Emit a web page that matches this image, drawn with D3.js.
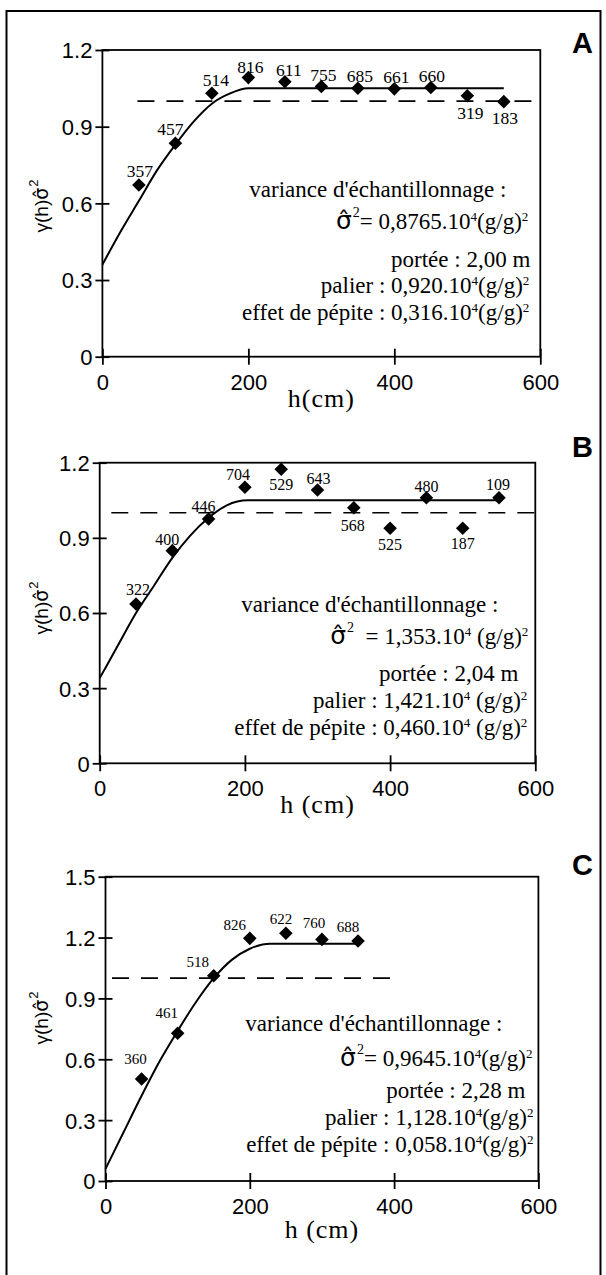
<!DOCTYPE html>
<html><head><meta charset="utf-8">
<script src="https://cdn.jsdelivr.net/npm/d3@7"></script>
<style>body{margin:0;background:#fff}svg{display:block}</style>
</head><body>
<script>
// ---------------- DATA ----------------
const xTicks = [0, 200, 400, 600];
const xTickLabels = ["0", "200", "400", "600"];
const yTicksAB = [0, 0.3, 0.6, 0.9, 1.2];
const yTickLabelsAB = ["0", "0.3", "0.6", "0.9", "1.2"];
const yTicksC = [0, 0.3, 0.6, 0.9, 1.2, 1.5];
const yTickLabelsC = ["0", "0.3", "0.6", "0.9", "1.2", "1.5"];

// Panel A
const hA = [50, 100, 150, 200, 250, 300, 350, 400, 450, 500, 550];
const gA = [0.672, 0.835, 1.031, 1.092, 1.076, 1.057, 1.050, 1.048, 1.053, 1.021, 0.998];
const nA = ["357", "457", "514", "816", "611", "755", "685", "661", "660", "319", "183"];
const modelHA = [0, 25, 50, 75, 100, 125, 150, 175, 200, 550];
const modelGA = [0.36, 0.49, 0.61, 0.73, 0.83, 0.92, 0.99, 1.03, 1.05, 1.05];
const refHA = [48, 600];
const annotA = {
  variance: "variance d'échantillonnage :",
  sigma: ["= 0,8765.10", "4", "(g/g)", "2"],
  portee: "portée : 2,00 m",
  palier: ["palier : 0,920.10", "4", "(g/g)", "2"],
  pepite: ["effet de pépite : 0,316.10", "4", "(g/g)", "2"]
};

// Panel B
const hB = [50, 100, 150, 200, 250, 300, 350, 400, 450, 500, 550];
const gB = [0.636, 0.849, 0.975, 1.102, 1.174, 1.091, 1.020, 0.938, 1.060, 0.938, 1.060];
const nB = ["322", "400", "446", "704", "529", "643", "568", "525", "480", "187", "109"];
const modelHB = [0, 25, 50, 75, 100, 125, 150, 175, 204, 550];
const modelGB = [0.34, 0.47, 0.60, 0.71, 0.82, 0.91, 0.98, 1.03, 1.05, 1.05];
const refHB = [16, 600];
const annotB = {
  variance: "variance d'échantillonnage :",
  sigma: ["  = 1,353.10", "4", " (g/g)", "2"],
  portee: "portée : 2,04 m",
  palier: ["palier : 1,421.10", "4", " (g/g)", "2"],
  pepite: ["effet de pépite : 0,460.10", "4", " (g/g)", "2"]
};

// Panel C
const hC = [50, 100, 150, 200, 250, 300, 350];
const gC = [0.503, 0.728, 1.012, 1.196, 1.221, 1.191, 1.183];
const nC = ["360", "461", "518", "826", "622", "760", "688"];
const modelHC = [0, 25, 50, 75, 100, 125, 150, 175, 200, 228, 352];
const modelGC = [0.06, 0.24, 0.42, 0.59, 0.74, 0.88, 1.0, 1.09, 1.145, 1.17, 1.17];
const refHC = [9, 400];
const annotC = {
  variance: "variance d'échantillonnage :",
  sigma: ["= 0,9645.10", "4", "(g/g)", "2"],
  portee: "portée : 2,28 m",
  palier: ["palier : 1,128.10", "4", "(g/g)", "2"],
  pepite: ["effet de pépite : 0,058.10", "4", "(g/g)", "2"]
};

// ---------------- LAYOUT ----------------
const SERIF = "'Liberation Serif', 'Times New Roman', serif";
const SANS = "'Liberation Sans', Arial, sans-serif";
const DJ = "'DejaVu Sans', sans-serif";
const NARROW = "'Liberation Sans Narrow', 'Arial Narrow', 'Liberation Sans', sans-serif";
const ANN = 23;

const layout = [
  { letter: "A", box: [102.4, 50, 540.3, 356.7], ymax: 1.2, letterY: 53.3, ylabY: 206,
    xlabel: "h(cm)", xlabDy: 50, labelSize: 17.5,
    labelOff: [[1,-8],[-5,-8],[4,-7],[2,-5],[4,-6],[2,-6],[2,-6],[2,-6],[1,-6],[3,23],[1,22]],
    lines: { variance: [-34, -160], sigma: [-12, -128], portee: [-10, -90], palier: [-11, -64], pepite: [-11, -37] } },
  { letter: "B", box: [99.7, 462.7, 535.3, 763.3], ymax: 1.2, letterY: 456.7, ylabY: 608,
    xlabel: "h (cm)", xlabDy: 50, labelSize: 16,
    labelOff: [[2,-9],[-5,-6],[-5,-7],[-7,-7],[0,21],[1,-6],[-1,23],[0,22],[0,-6],[0,21],[-1,-8]],
    lines: { variance: [-37, -151], sigma: [-7, -119], portee: [-17, -82], palier: [-8, -55], pepite: [-8, -28] } },
  { letter: "C", box: [105.5, 876.7, 538.4, 1181], ymax: 1.5, letterY: 875, ylabY: 1018,
    xlabel: "h (cm)", xlabDy: 57, labelSize: 15,
    labelOff: [[-6,-15],[-11,-15],[-16,-9],[-15,-8],[-5,-9],[-8,-11],[-10,-9]],
    lines: { variance: [-36, -150], sigma: [-6, -115], portee: [-13, -83], palier: [-5, -56], pepite: [-5, -29] } }
];

const panelData = [
  { h: hA, g: gA, n: nA, mh: modelHA, mg: modelGA, ref: refHA, yt: yTicksAB, ytl: yTickLabelsAB, annot: annotA },
  { h: hB, g: gB, n: nB, mh: modelHB, mg: modelGB, ref: refHB, yt: yTicksAB, ytl: yTickLabelsAB, annot: annotB },
  { h: hC, g: gC, n: nC, mh: modelHC, mg: modelGC, ref: refHC, yt: yTicksC, ytl: yTickLabelsC, annot: annotC }
];

// ---------------- DRAW ----------------
const svg = d3.select("body").append("svg").attr("width", 606).attr("height", 1275);

// outer frame
svg.append("path").attr("d", "M6.5,1275V11H600.5V1275")
  .attr("fill", "none").attr("stroke", "#000").attr("stroke-width", 2);

// sigma with combining hat (DejaVu Sans positions the mark), then superscript 2
function sigmaHat(t, size, supSize, supDy) {
  t.append("tspan").text("\u03C3\u0302").attr("font-family", DJ).attr("font-size", size);
  t.append("tspan").text("2").attr("font-size", supSize).attr("dx", 1).attr("dy", supDy);
}

function textLine(g, x, y, segs, withSigma) {
  const t = g.append("text").attr("x", x).attr("y", y).attr("text-anchor", "end")
    .style("white-space", "pre").attr("font-family", SERIF).attr("font-size", ANN).attr("fill", "#000");
  let shift = 0;
  if (withSigma) {
    sigmaHat(t, 25, 14, -12);
    shift = 12;
  }
  segs.forEach((s, i) => {
    const sup = i % 2 === 1;
    let dy = 0;
    if (sup) { dy = -8; }
    else if (i > 0) { dy = 8; }
    else { dy = shift; }
    t.append("tspan").text(s).attr("font-size", sup ? 13 : ANN).attr("dy", dy);
  });
}

panelData.forEach((pd, pi) => {
  const L = layout[pi];
  const [x0, y0, x1, y1] = L.box;
  const x = d3.scaleLinear().domain([0, 600]).range([x0, x1]);
  const y = d3.scaleLinear().domain([0, L.ymax]).range([y1, y0]);
  const g = svg.append("g");

  // plot frame
  g.append("rect").attr("x", x0).attr("y", y0).attr("width", x1 - x0).attr("height", y1 - y0)
    .attr("fill", "none").attr("stroke", "#000").attr("stroke-width", 1.8);

  // y axis
  const ya = g.append("g").attr("transform", `translate(${x0},0)`)
    .call(d3.axisLeft(y).tickValues(pd.yt).tickFormat((d, i) => pd.ytl[i]).tickSize(7).tickSizeOuter(0));
  ya.select(".domain").remove();
  ya.selectAll(".tick line").attr("x1", -7).attr("x2", 7).attr("stroke-width", 1.8);
  ya.selectAll(".tick text").attr("x", -10).attr("dy", "0.36em")
    .attr("font-family", SANS).attr("font-size", 22).attr("fill", "#000");

  // x axis
  const xa = g.append("g").attr("transform", `translate(0,${y1})`)
    .call(d3.axisBottom(x).tickValues(xTicks).tickFormat((d, i) => xTickLabels[i]).tickSize(8).tickSizeOuter(0));
  xa.select(".domain").remove();
  xa.selectAll(".tick line").attr("y1", -8).attr("y2", 8).attr("stroke-width", 1.8);
  xa.selectAll(".tick text").attr("y", 33).attr("dy", 0)
    .attr("font-family", SANS).attr("font-size", 22).attr("fill", "#000");

  // x label
  g.append("text").attr("x", (x0 + x1) / 2).attr("y", y1 + L.xlabDy).attr("text-anchor", "middle")
    .attr("font-family", SERIF).attr("font-size", 26).attr("letter-spacing", 1)
    .style("white-space", "pre").text(L.xlabel);

  // y label (rotated)
  const yl = g.append("text").attr("transform", `translate(48,${L.ylabY}) rotate(-90)`)
    .attr("text-anchor", "middle").attr("font-family", SANS).attr("font-size", 19);
  yl.append("tspan").text("\u03B3(h)");
  sigmaHat(yl, 19, 13, -10);

  // reference dashed line at 1
  g.append("line").attr("x1", x(pd.ref[0])).attr("x2", x(pd.ref[1]))
    .attr("y1", y(1)).attr("y2", y(1))
    .attr("stroke", "#000").attr("stroke-width", 1.6).attr("stroke-dasharray", "17,12");

  // model curve
  const pts = pd.mh.map((h, i) => [h, pd.mg[i]]);
  g.append("path").datum(pts)
    .attr("d", d3.line().x(d => x(d[0])).y(d => y(d[1])).curve(d3.curveMonotoneX))
    .attr("fill", "none").attr("stroke", "#000").attr("stroke-width", 2);

  // diamonds
  const sym = d3.symbol().type(d3.symbolSquare).size(92);
  g.selectAll("path.pt").data(pd.h).enter().append("path").attr("class", "pt")
    .attr("d", sym)
    .attr("transform", (d, i) => `translate(${x(d)},${y(pd.g[i])}) rotate(45)`)
    .attr("fill", "#000");

  // count labels
  g.selectAll("text.cnt").data(pd.h).enter().append("text").attr("class", "cnt")
    .attr("x", (d, i) => x(d) + L.labelOff[i][0])
    .attr("y", (d, i) => y(pd.g[i]) + L.labelOff[i][1])
    .attr("text-anchor", "middle").attr("font-family", SERIF).attr("font-size", L.labelSize)
    .text((d, i) => pd.n[i]);

  // panel letter
  g.append("text").attr("x", 572).attr("y", L.letterY).attr("font-family", NARROW)
    .attr("font-weight", "bold").attr("font-size", 29).text(L.letter);

  // annotations
  const an = pd.annot, ln = L.lines;
  g.append("text").attr("x", x1 + ln.variance[0]).attr("y", y1 + ln.variance[1]).attr("text-anchor", "end")
    .attr("font-family", SERIF).attr("font-size", ANN).text(an.variance);
  textLine(g, x1 + ln.sigma[0], y1 + ln.sigma[1], an.sigma, true);
  g.append("text").attr("x", x1 + ln.portee[0]).attr("y", y1 + ln.portee[1]).attr("text-anchor", "end")
    .attr("font-family", SERIF).attr("font-size", ANN).text(an.portee);
  textLine(g, x1 + ln.palier[0], y1 + ln.palier[1], an.palier, false);
  textLine(g, x1 + ln.pepite[0], y1 + ln.pepite[1], an.pepite, false);
});
</script>
</body></html>
